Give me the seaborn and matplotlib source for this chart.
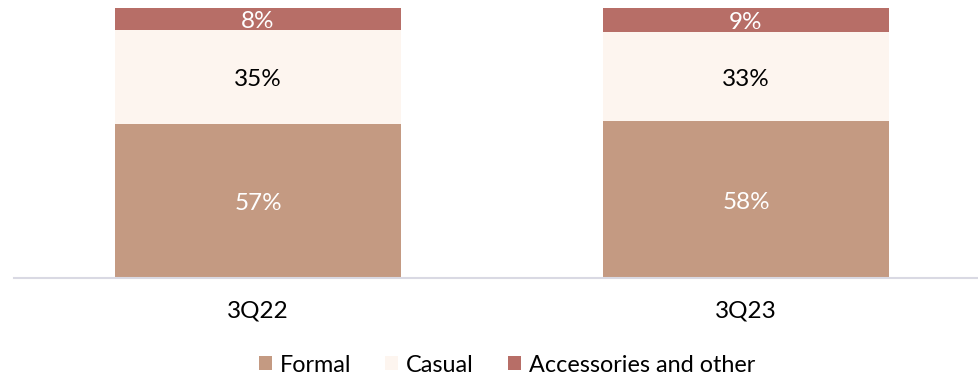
import matplotlib
matplotlib.use("Agg")
import matplotlib.pyplot as plt
from matplotlib.patches import Patch
import numpy as np
import pandas as pd
import seaborn as sns

quarters = ["3Q22", "3Q23"]
formal = [57, 58]
casual = [35, 33]
accessories = [8, 9]
series_names = ["Formal", "Casual", "Accessories and other"]
colors = ["#C49A82", "#FDF5EF", "#B76E67"]
label_colors = ["white", "black", "white"]

sns.set_theme(style="white")
plt.rcParams["font.family"] = ["Lato", "DejaVu Sans"]
plt.rcParams["text.color"] = "black"

fig = plt.figure(figsize=(9.79, 3.77), dpi=100)
ax = fig.add_axes([14 / 979, 1 - 278 / 377, 1 - 14 / 979, (278 - 8) / 377])

df = pd.DataFrame({"quarter": quarters, "Formal": formal,
                   "Casual": casual, "Accessories and other": accessories})
layers = [df["Formal"].to_numpy(),
          (df["Formal"] + df["Casual"]).to_numpy(),
          (df["Formal"] + df["Casual"] + df["Accessories and other"]).to_numpy()]

# draw cumulative totals back to front so each segment shows its own share
for name, cum, col in reversed(list(zip(series_names, layers, colors))):
    sns.barplot(x=df["quarter"], y=cum, color=col, width=0.586,
                saturation=1, ax=ax, linewidth=0)

# segment value labels, centred in each segment
for i in range(len(quarters)):
    prev = 0
    for s, (name, cum) in enumerate(zip(series_names, layers)):
        val = df[name].iloc[i]
        ax.annotate(f"{val}%", xy=(i, prev + val / 2), xytext=(0, -2),
                    textcoords="offset points", ha="center", va="center",
                    fontsize=17.5, color=label_colors[s])
        prev = cum[i]

ax.set_xlim(-0.5, 1.5 - 11 / 488)
ax.set_ylim(0, 100)
ax.set_xlabel("")
ax.set_ylabel("")
ax.set_yticks([])
ax.tick_params(axis="x", length=0, labelsize=17.5, pad=16.5, colors="black")
for side in ["left", "right", "top"]:
    ax.spines[side].set_visible(False)
ax.spines["bottom"].set_color("#D9D9E3")
ax.spines["bottom"].set_linewidth(1.5)

handles = [Patch(facecolor=c, edgecolor="none", label=n)
           for n, c in zip(series_names, colors)]
fig.legend(handles=handles, loc="center", bbox_to_anchor=(507 / 979, 1 - 365 / 377),
           ncol=3, frameon=False, prop={"size": 16.8}, labelcolor="black",
           handlelength=0.55, handleheight=0.55, handletextpad=0.35,
           columnspacing=1.45)

fig.savefig("out.png", dpi=100)
